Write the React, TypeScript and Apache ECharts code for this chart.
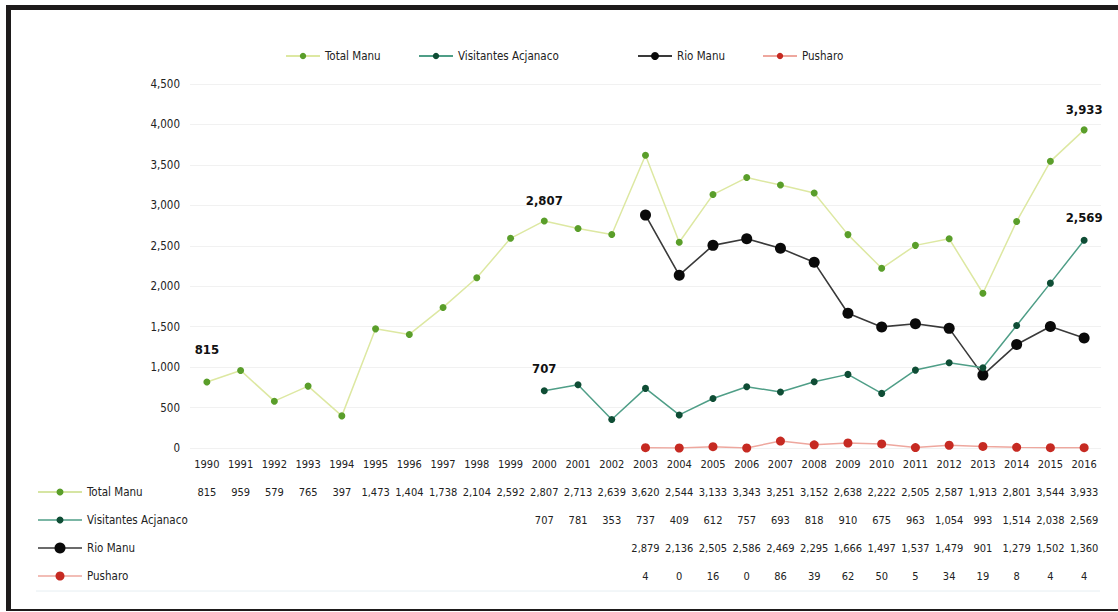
import React, { useEffect, useRef } from "react";
import * as echarts from "echarts";

const years = [
  "1990", "1991", "1992", "1993", "1994", "1995", "1996", "1997", "1998", "1999",
  "2000", "2001", "2002", "2003", "2004", "2005", "2006", "2007", "2008", "2009",
  "2010", "2011", "2012", "2013", "2014", "2015", "2016",
];
const totalManu = [
  815, 959, 579, 765, 397, 1473, 1404, 1738, 2104, 2592, 2807, 2713, 2639, 3620,
  2544, 3133, 3343, 3251, 3152, 2638, 2222, 2505, 2587, 1913, 2801, 3544, 3933,
];
const visitantesAcjanaco = [
  null, null, null, null, null, null, null, null, null, null,
  707, 781, 353, 737, 409, 612, 757, 693, 818, 910, 675, 963, 1054, 993, 1514, 2038, 2569,
];
const rioManu = [
  null, null, null, null, null, null, null, null, null, null, null, null, null,
  2879, 2136, 2505, 2586, 2469, 2295, 1666, 1497, 1537, 1479, 901, 1279, 1502, 1360,
];
const pusharo = [
  null, null, null, null, null, null, null, null, null, null, null, null, null,
  4, 0, 16, 0, 86, 39, 62, 50, 5, 34, 19, 8, 4, 4,
];
const seriesNames = ["Total Manu", "Visitantes Acjanaco", "Rio Manu", "Pusharo"];
const yTicks = [0, 500, 1000, 1500, 2000, 2500, 3000, 3500, 4000, 4500];

const FONT = '"DejaVu Sans Condensed", "DejaVu Sans", sans-serif';

const lineColors = ["#dde8a2", "#4f9e87", "#3a3a3a", "#eea79e"];
const markerColors = ["#5a9e2a", "#0f4d35", "#0a0a0a", "#c62a22"];
const markerSizes = [7, 7, 11, 9];

const fmt = (v: number | null) => (v === null || v === undefined ? "" : v.toLocaleString("en-US"));

export default function App() {
  const ref = useRef<HTMLDivElement>(null);
  useEffect(() => {
    document.body.style.margin = "0";
    if (!ref.current) return;
    const chart = echarts.init(ref.current, null, { renderer: "svg" });
    const datasets = [totalManu, visitantesAcjanaco, rioManu, pusharo];

    const labelled: Record<number, Record<number, number>> = {
      0: { 0: 23, 10: 10, 26: 10 },
      1: { 10: 12, 26: 13 },
    };

    const series = datasets.map((arr, si) => ({
      name: seriesNames[si],
      type: "line",
      xAxisIndex: 0,
      yAxisIndex: 0,
      connectNulls: false,
      symbol: "circle",
      symbolSize: markerSizes[si],
      lineStyle: { color: lineColors[si], width: si === 2 ? 1.6 : 1.5 },
      itemStyle: { color: markerColors[si] },
      z: 10 - si,
      data: arr.map((v, i) => {
        const d = labelled[si] && labelled[si][i];
        if (d !== undefined && v !== null) {
          return {
            value: v,
            label: {
              show: true,
              position: "top",
              distance: d,
              formatter: fmt(v),
              fontFamily: FONT,
              fontWeight: "bold",
              fontSize: 13,
              color: "#111",
            },
          };
        }
        return v;
      }),
    }));

    const rowMargins = [44, 72, 100, 128];
    const tableAxes = datasets.map((arr, si) => ({
      type: "category",
      data: years,
      gridIndex: 0,
      position: "bottom",
      offset: 0,
      axisLine: { show: false },
      axisTick: { show: false },
      splitLine: { show: false },
      axisLabel: {
        interval: 0,
        margin: rowMargins[si],
        verticalAlign: "middle",
        fontFamily: FONT,
        fontSize: 11,
        color: "#222",
        formatter: (_v: string, idx: number) => fmt(arr[idx]),
      },
    }));

    const rowY = [492, 520, 548, 576];
    const graphics: any[] = [
      { type: "rect", shape: { x: 6, y: 5, width: 1112, height: 5 }, style: { fill: "#1e1b1b" } },
      { type: "rect", shape: { x: 6, y: 5, width: 5, height: 606 }, style: { fill: "#1e1b1b" } },
      { type: "rect", shape: { x: 6, y: 609, width: 1112, height: 2 }, style: { fill: "#1e1b1b" } },
      { type: "line", shape: { x1: 36, y1: 591, x2: 1100, y2: 591 }, style: { stroke: "#e6eef2", lineWidth: 1 } },
    ];
    seriesNames.forEach((name, si) => {
      graphics.push({
        type: "line",
        shape: { x1: 38, y1: rowY[si], x2: 82, y2: rowY[si] },
        style: { stroke: si === 0 ? "#c9dc84" : lineColors[si], lineWidth: 1.5 },
      });
      graphics.push({
        type: "circle",
        shape: { cx: 60, cy: rowY[si], r: markerSizes[si] / 2 },
        style: { fill: markerColors[si] },
      });
      graphics.push({
        type: "text",
        x: 87,
        y: rowY[si],
        style: { text: name, fontFamily: FONT, fontSize: 11.5, fill: "#222", verticalAlign: "middle" },
      });
    });

    const legendLeft = [280, 413, 632, 757];
    const legends = seriesNames.map((n, i) => ({
      data: [n],
      left: legendLeft[i],
      top: 45,
      itemWidth: 34,
      itemHeight: i === 2 ? 10 : 8,
      itemGap: 6,
      textStyle: { fontFamily: FONT, fontSize: 11.5, color: "#222" },
    }));

    chart.setOption({
      animation: false,
      backgroundColor: "#ffffff",
      legend: legends,
      grid: { left: 190, right: 17, top: 84, bottom: 164, containLabel: false },
      xAxis: [
        {
          type: "category",
          data: years,
          position: "bottom",
          axisLine: { show: false },
          axisTick: { show: false },
          axisLabel: {
            interval: 0,
            margin: 16,
            verticalAlign: "middle",
            fontFamily: FONT,
            fontSize: 11,
            color: "#222",
          },
        },
        ...tableAxes,
      ],
      yAxis: {
        type: "value",
        min: yTicks[0],
        max: yTicks[yTicks.length - 1],
        interval: 500,
        axisLine: { show: false },
        axisTick: { show: false },
        splitLine: { lineStyle: { color: "#f1f1f1", width: 1 } },
        axisLabel: {
          margin: 10,
          fontFamily: FONT,
          fontSize: 11.5,
          color: "#222",
          formatter: (v: number) => v.toLocaleString("en-US"),
        },
      },
      graphic: graphics,
      series,
    });
    return () => chart.dispose();
  }, []);
  return <div ref={ref} style={{ width: 1118, height: 612 }} />;
}
